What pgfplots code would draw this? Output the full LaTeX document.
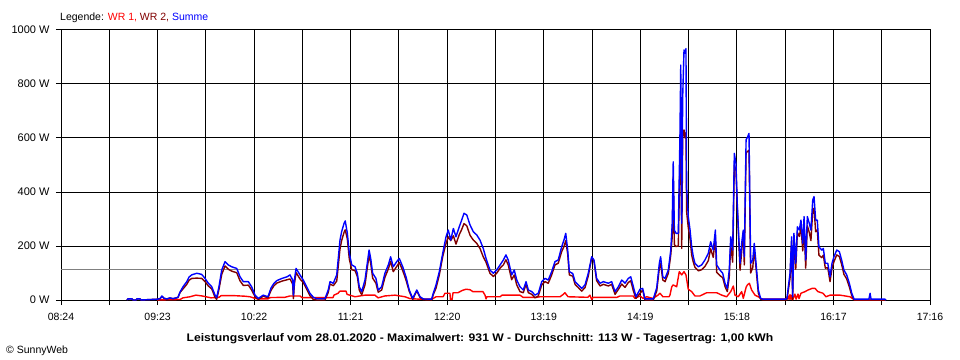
\documentclass[border=0pt]{standalone}
\usepackage{fontspec}
\setmainfont{Liberation Sans}
\usepackage{pgfplots}
\usepackage{pgfplotstable}
\pgfplotsset{compat=1.18}
\definecolor{wrone}{RGB}{255,0,0}
\definecolor{wrtwo}{RGB}{128,0,0}
\definecolor{summe}{RGB}{0,0,255}
\definecolor{avg}{RGB}{128,128,128}

% t = minutes after 08:24, sum = Summe [W], wr2 = WR 2 [W]
\pgfplotstableread{
t sum wr2
40.4 0 0
41.0 4 4
43.5 4 4
44.1 0 0
45.9 0 0
46.5 4 4
48.4 4 4
49.0 0 0
58.8 3 3
60.6 5 5
61.8 15 13
63.1 6 6
64.9 4 4
66.7 8 7
68.6 5 5
70.4 8 7
71.6 10 9
72.9 30 28
74.7 49 41
77.0 68 58
78.4 85 73
80.0 93 80
83.1 99 81
86.1 95 80
88.2 80 68
90.2 62 52
92.3 49 41
94.3 18 10
95.3 9 2
96.7 49 39
98.4 111 95
100.4 142 126
102.4 130 114
104.5 123 107
107.6 117 101
109.6 86 71
111.6 68 54
114.7 68 55
116.7 49 37
118.8 18 12
120.8 6 2
123.8 18 14
126.7 12 8
128.6 45 36
130.4 62 53
132.2 72 63
135.3 80 70
138.4 86 75
140.2 93 78
141.8 74 59
142.3 18 5
142.9 74 59
143.9 117 102
146.3 93 78
148.3 74 65
150.4 49 40
152.4 25 16
154.5 10 2
156.5 5 0
161.6 5 0
163.6 37 28
164.7 68 59
166.7 62 53
168.8 93 70
170.8 222 189
171.8 253 220
173.3 284 251
174.0 293 260
175.3 247 226
176.5 173 152
178.0 130 112
180.0 123 109
181.4 99 87
182.6 49 37
184.1 31 19
186.1 74 56
187.5 136 118
188.6 185 167
189.6 154 136
190.8 99 81
192.8 80 62
194.2 37 29
196.3 49 37
198.3 99 84
200.4 130 115
201.8 160 143
203.4 123 105
205.5 142 124
207.1 154 139
209.2 123 109
211.2 86 74
213.2 37 32
215.3 6 2
217.8 37 34
219.8 12 9
221.8 4 1
226.9 3 0
227.9 25 20
229.6 56 44
231.6 105 93
233.7 173 161
235.7 234 209
237.1 259 234
238.6 222 220
240.2 265 238
241.8 234 207
243.8 271 242
245.3 296 261
246.7 321 283
248.4 315 275
250.4 278 240
252.4 253 222
254.5 241 210
256.5 222 191
258.5 191 160
260.2 154 140
262.6 111 99
264.7 99 87
266.7 111 99
268.8 130 118
270.8 148 130
272.4 167 149
273.8 148 130
275.9 93 75
277.5 111 93
279.0 74 56
281.0 49 31
283.0 37 27
284.7 68 58
286.1 37 27
288.2 31 21
290.2 18 8
292.2 25 15
294.3 68 56
296.3 80 68
298.3 74 62
300.4 105 93
302.4 142 130
304.4 148 136
306.5 197 179
307.9 222 198
309.0 247 220
310.2 185 170
311.2 105 93
313.3 98 88
314.7 68 58
316.7 56 46
318.8 43 33
320.8 56 46
322.8 99 89
324.9 160 158
326.3 148 143
327.9 80 72
330.0 62 52
332.0 68 58
335.1 62 52
337.1 68 58
339.2 31 21
341.2 49 39
343.3 74 59
345.3 62 47
347.3 80 65
348.8 86 71
350.4 49 34
352.0 12 6
354.5 40 25
356.1 43 37
357.5 4 0
362.6 4 0
364.7 45 33
366.3 136 118
367.1 160 135
368.4 86 74
369.8 80 68
371.8 111 99
373.3 185 167
374.2 284 235
374.8 512 456
375.5 259 205
376.5 247 198
377.9 247 200
378.9 605 500
379.4 870 630
380.0 284 191
380.6 753 600
381.4 926 630
382.0 914 600
382.6 931 620
383.0 420 327
384.0 309 269
385.1 259 226
386.1 197 166
387.1 160 140
388.1 136 121
390.2 123 108
392.2 130 112
394.2 148 124
396.3 173 146
397.7 216 190
399.3 185 158
400.6 259 232
401.4 130 103
403.4 111 90
405.1 99 83
406.5 62 50
407.9 43 31
409.1 111 85
410.0 234 203
411.2 185 140
412.2 543 500
413.2 506 480
414.0 358 346
414.9 234 222
415.7 136 110
416.7 210 179
417.7 259 253
418.3 160 130
419.4 593 546
420.4 605 550
421.2 617 555
422.2 136 100
423.5 148 120
424.4 210 190
425.5 136 118
426.9 37 25
428.3 6 3
429.8 3 0
443.8 3 0
444.4 6 0
446.3 99 80
447.3 234 220
447.9 12 0
448.7 247 230
449.8 136 114
450.8 271 250
452.0 259 235
453.0 296 271
454.1 210 182
454.9 309 280
455.9 148 118
456.9 309 275
458.1 284 250
459.1 259 220
460.2 370 330
461.0 383 340
462.0 296 253
463.0 296 260
464.0 197 166
465.7 185 157
466.7 191 166
467.9 136 118
469.4 136 120
470.8 86 68
472.0 136 118
473.2 160 142
474.9 185 167
476.5 179 161
477.9 148 132
479.3 111 95
481.0 93 78
482.6 62 49
484.1 25 16
485.5 3 0
494.6 3 0
495.3 25 0
495.9 3 0
504.4 3 0
505.1 0 0
}\sumtable

% WR 1 [W]
\pgfplotstableread{
t wr1
58.8 0
72.9 2
74.7 8
79.0 12
82.6 18
86.3 15
88.8 12
91.8 8
96.7 10
98.0 16
106.5 16
112.6 14
115.7 12
118.8 6
120.6 4
126.7 4
127.9 9
137.1 10
140.2 15
146.3 15
147.5 9
166.5 9
167.1 18
169.6 25
170.8 33
174.5 33
175.1 21
180.0 12
186.1 18
192.2 18
194.1 8
196.5 12
198.3 15
204.5 18
207.5 15
210.6 12
213.7 5
219.8 3
227.1 3
229.6 12
233.9 12
235.1 25
238.1 25
238.4 2
239.4 2
240.0 27
243.0 27
245.5 35
247.9 40
250.4 38
252.2 31
258.3 31
259.6 18
260.2 4
260.8 12
268.8 12
270.0 18
281.0 18
282.8 10
291.4 10
293.2 12
305.5 12
307.3 20
308.5 27
310.4 12
322.6 10
323.8 18
324.9 2
325.7 10
340.4 10
342.2 15
350.2 15
351.4 6
354.5 15
356.3 6
358.6 12
362.4 6
365.5 18
366.7 25
368.5 12
372.2 12
372.8 18
373.9 49
374.8 56
376.9 49
378.5 105
380.0 93
381.4 105
382.6 93
384.0 40
386.1 31
388.1 15
391.2 15
393.2 21
395.3 27
401.4 27
404.5 18
407.5 12
410.0 31
411.6 52
412.6 18
414.6 12
416.7 31
417.7 6
419.4 47
420.2 56
421.4 62
422.8 37
424.9 18
426.9 12
429.0 3
443.8 3
445.1 15
445.7 2
446.3 20
446.9 2
447.5 18
448.1 3
449.3 22
450.0 3
451.2 22
451.8 5
453.0 25
455.5 31
457.3 37
459.8 43
461.6 43
463.4 31
466.5 25
468.3 12
470.8 18
476.9 18
480.0 15
483.0 12
484.9 4
486.1 0
504.4 0
}\wronetable

\begin{document}
\begin{tikzpicture}[font=\fontsize{10.5bp}{12.5bp}\selectfont]
\path[use as bounding box] (-61bp,-60bp) rectangle (899bp,300bp);
\begin{axis}[
  at={(0,0)}, anchor=south west,
  scale only axis, width=869bp, height=270bp,
  xmin=0, xmax=532, ymin=0, ymax=1000,
  xtick={0,29.556,59.111,88.667,118.222,147.778,177.333,206.889,236.444,266,295.556,325.111,354.667,384.222,413.778,443.333,472.889,502.444,532},
  xticklabels={08:24,,09:23,,10:22,,11:21,,12:20,,13:19,,14:19,,15:18,,16:17,,17:16},
  ytick={0,200,400,600,800,1000},
  yticklabels={0 W,200 W,400 W,600 W,800 W,1000 W},
  xticklabel style={yshift=-5bp},
  yticklabel style={xshift=-3bp, font=\fontsize{11bp}{13bp}\selectfont},
  tick pos=left, tick align=outside, major tick length=5bp,
  every tick/.style={black, line width=1bp},
  grid=major, major grid style={black, line width=1bp},
  axis line style={black, line width=1bp},
  clip=true,
  every axis plot/.append style={line width=1.4bp, line join=round, mark=none},
]
\addplot[avg, line width=1bp] coordinates {(0,113) (532,113)};
\addplot[wrone] table[x=t, y=wr1] {\wronetable};
\addplot[wrtwo] table[x=t, y=wr2] {\sumtable};
\addplot[summe] table[x=t, y=sum] {\sumtable};
\end{axis}
\node[anchor=base west, inner sep=0pt] at (-1bp,279bp) {Legende: \textcolor{wrone}{WR 1,} \textcolor{wrtwo}{WR 2,} \textcolor{summe}{Summe}};
\node[anchor=base, inner sep=0pt] at (419bp,-41bp) {\scalebox{1.105}[1]{\fontsize{11bp}{13bp}\selectfont\bfseries Leistungsverlauf vom 28.01.2020 - Maximalwert: 931 W - Durchschnitt: 113 W - Tagesertrag: 1,00 kWh}};
\node[anchor=base west, inner sep=0pt] at (-55bp,-53bp) {© SunnyWeb};
\end{tikzpicture}
\end{document}
